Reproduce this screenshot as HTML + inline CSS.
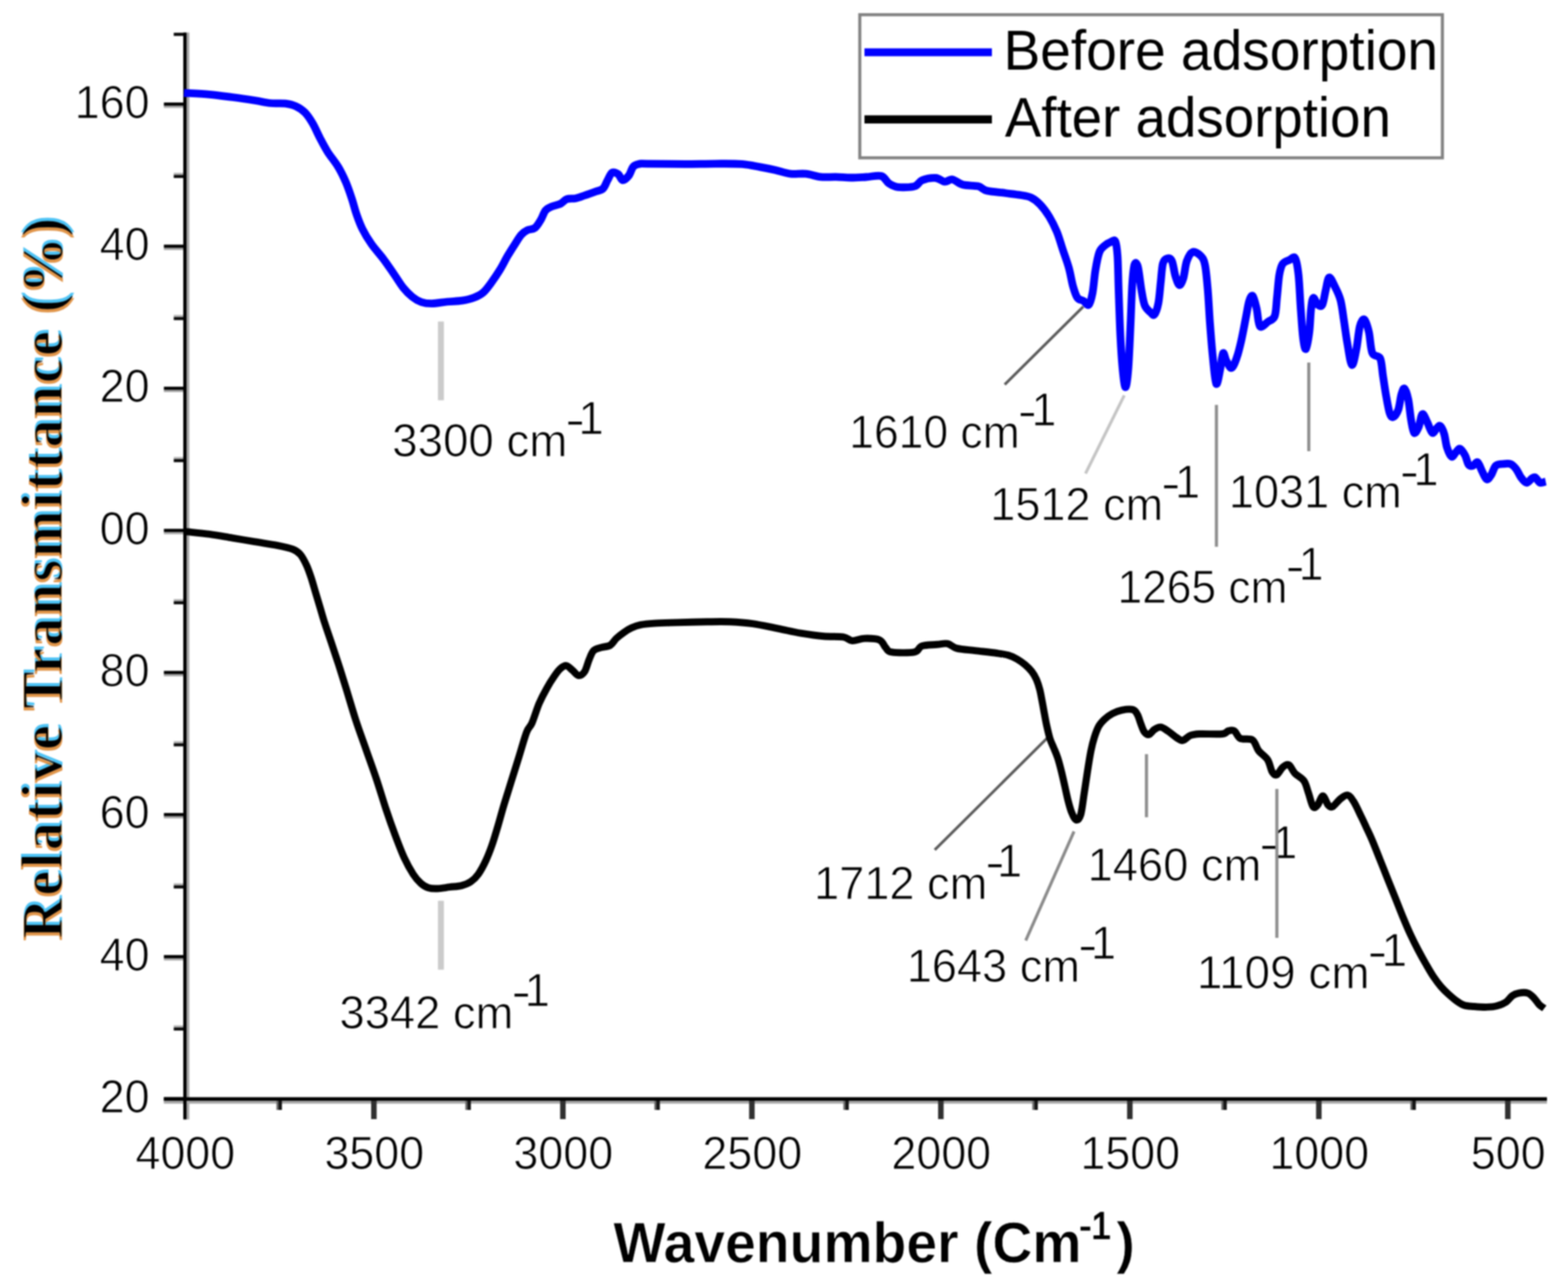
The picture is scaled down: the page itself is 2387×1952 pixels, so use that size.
<!DOCTYPE html>
<html lang="en">
<head>
<meta charset="utf-8">
<title>FTIR spectra before and after adsorption</title>
<style>
html,body{margin:0;padding:0;background:#fff;}
body{width:2387px;height:1952px;overflow:hidden;}
svg{display:block;}
text{white-space:pre;}
</style>
</head>
<body>
<svg width="2387" height="1952" viewBox="0 0 2387 1952">
<defs><filter id="soft" filterUnits="userSpaceOnUse" x="0" y="0" width="2387" height="1952" color-interpolation-filters="sRGB"><feGaussianBlur stdDeviation="1.1"/></filter><filter id="fringe" filterUnits="userSpaceOnUse" x="0" y="300" width="160" height="1160" color-interpolation-filters="sRGB"><feMorphology in="SourceAlpha" operator="erode" radius="1.3" result="core"/><feOffset in="SourceAlpha" dx="0" dy="-3.6" result="up"/><feFlood flood-color="#22b4f2" flood-opacity="0.8"/><feComposite in2="up" operator="in" result="cyan"/><feOffset in="SourceAlpha" dx="0" dy="3.6" result="down"/><feFlood flood-color="#d97a1c" flood-opacity="0.8"/><feComposite in2="down" operator="in" result="orange"/><feFlood flood-color="#000"/><feComposite in2="core" operator="in" result="ink"/><feMerge><feMergeNode in="cyan"/><feMergeNode in="orange"/><feMergeNode in="ink"/></feMerge></filter></defs>
<rect x="0" y="0" width="2387" height="1952" fill="#fff"/>
<g filter="url(#soft)">
<rect x="0" y="0" width="2387" height="1952" fill="#fff"/>
<rect x="284" y="49.5" width="4.2" height="1655" fill="#a6a6a6"/>
<rect x="249.5" y="1676" width="2105.5" height="4.4" fill="#a6a6a6"/>
<rect x="249.5" y="1675.2" width="30" height="3.6" fill="#a6a6a6"/>
<rect x="249.5" y="1670.6" width="30" height="4.8" fill="#000"/>
<rect x="249.5" y="1458.8" width="30" height="3.6" fill="#a6a6a6"/>
<rect x="249.5" y="1454.2" width="30" height="4.8" fill="#000"/>
<rect x="249.5" y="1242.5" width="30" height="3.6" fill="#a6a6a6"/>
<rect x="249.5" y="1237.9" width="30" height="4.8" fill="#000"/>
<rect x="249.5" y="1026.1" width="30" height="3.6" fill="#a6a6a6"/>
<rect x="249.5" y="1021.5" width="30" height="4.8" fill="#000"/>
<rect x="249.5" y="809.8" width="30" height="3.6" fill="#a6a6a6"/>
<rect x="249.5" y="805.2" width="30" height="4.8" fill="#000"/>
<rect x="249.5" y="593.4" width="30" height="3.6" fill="#a6a6a6"/>
<rect x="249.5" y="588.8" width="30" height="4.8" fill="#000"/>
<rect x="249.5" y="377.1" width="30" height="3.6" fill="#a6a6a6"/>
<rect x="249.5" y="372.5" width="30" height="4.8" fill="#000"/>
<rect x="249.5" y="160.7" width="30" height="3.6" fill="#a6a6a6"/>
<rect x="249.5" y="156.1" width="30" height="4.8" fill="#000"/>
<rect x="264.5" y="1561.2" width="15" height="3.2" fill="#b4b4b4"/>
<rect x="264.5" y="1564.4" width="15" height="4.7" fill="#0a0a0a"/>
<rect x="264.5" y="1344.9" width="15" height="3.2" fill="#b4b4b4"/>
<rect x="264.5" y="1348.1" width="15" height="4.7" fill="#0a0a0a"/>
<rect x="264.5" y="1128.5" width="15" height="3.2" fill="#b4b4b4"/>
<rect x="264.5" y="1131.7" width="15" height="4.7" fill="#0a0a0a"/>
<rect x="264.5" y="912.2" width="15" height="3.2" fill="#b4b4b4"/>
<rect x="264.5" y="915.4" width="15" height="4.7" fill="#0a0a0a"/>
<rect x="264.5" y="695.8" width="15" height="3.2" fill="#b4b4b4"/>
<rect x="264.5" y="699.0" width="15" height="4.7" fill="#0a0a0a"/>
<rect x="264.5" y="479.5" width="15" height="3.2" fill="#b4b4b4"/>
<rect x="264.5" y="482.7" width="15" height="4.7" fill="#0a0a0a"/>
<rect x="264.5" y="263.1" width="15" height="3.2" fill="#b4b4b4"/>
<rect x="264.5" y="266.3" width="15" height="4.7" fill="#0a0a0a"/>
<rect x="264.5" y="49.5" width="15" height="0.5" fill="#b4b4b4"/>
<rect x="264.5" y="50.0" width="15" height="4.7" fill="#0a0a0a"/>
<rect x="565.0" y="1676" width="8.4" height="28" fill="#303030"/>
<rect x="852.7" y="1676" width="8.4" height="28" fill="#303030"/>
<rect x="1140.4" y="1676" width="8.4" height="28" fill="#303030"/>
<rect x="1428.1" y="1676" width="8.4" height="28" fill="#303030"/>
<rect x="1715.8" y="1676" width="8.4" height="28" fill="#303030"/>
<rect x="2003.5" y="1676" width="8.4" height="28" fill="#303030"/>
<rect x="2291.2" y="1676" width="8.4" height="28" fill="#303030"/>
<rect x="420.8" y="1676" width="3" height="14" fill="#6a6a6a"/>
<rect x="423.8" y="1676" width="5.4" height="14" fill="#141414"/>
<rect x="708.4" y="1676" width="3" height="14" fill="#6a6a6a"/>
<rect x="711.4" y="1676" width="5.4" height="14" fill="#141414"/>
<rect x="996.1" y="1676" width="3" height="14" fill="#6a6a6a"/>
<rect x="999.1" y="1676" width="5.4" height="14" fill="#141414"/>
<rect x="1283.8" y="1676" width="3" height="14" fill="#6a6a6a"/>
<rect x="1286.8" y="1676" width="5.4" height="14" fill="#141414"/>
<rect x="1571.5" y="1676" width="3" height="14" fill="#6a6a6a"/>
<rect x="1574.5" y="1676" width="5.4" height="14" fill="#141414"/>
<rect x="1859.2" y="1676" width="3" height="14" fill="#6a6a6a"/>
<rect x="1862.2" y="1676" width="5.4" height="14" fill="#141414"/>
<rect x="2147.0" y="1676" width="3" height="14" fill="#6a6a6a"/>
<rect x="2150.0" y="1676" width="5.4" height="14" fill="#141414"/>
<rect x="279" y="49.5" width="5" height="1655" fill="#000"/>
<rect x="249.5" y="1670.6" width="2105.5" height="5.4" fill="#000"/>
<text transform="translate(227.6 1694.0) scale(0.975 1)" text-anchor="end" font-family="'Liberation Sans', Arial, Helvetica, sans-serif" font-size="70" fill="#000" stroke="#fff" stroke-width="1.1" paint-order="fill stroke">20</text>
<text transform="translate(227.6 1477.7) scale(0.975 1)" text-anchor="end" font-family="'Liberation Sans', Arial, Helvetica, sans-serif" font-size="70" fill="#000" stroke="#fff" stroke-width="1.1" paint-order="fill stroke">40</text>
<text transform="translate(227.6 1261.3) scale(0.975 1)" text-anchor="end" font-family="'Liberation Sans', Arial, Helvetica, sans-serif" font-size="70" fill="#000" stroke="#fff" stroke-width="1.1" paint-order="fill stroke">60</text>
<text transform="translate(227.6 1045.0) scale(0.975 1)" text-anchor="end" font-family="'Liberation Sans', Arial, Helvetica, sans-serif" font-size="70" fill="#000" stroke="#fff" stroke-width="1.1" paint-order="fill stroke">80</text>
<text transform="translate(227.6 828.6) scale(0.975 1)" text-anchor="end" font-family="'Liberation Sans', Arial, Helvetica, sans-serif" font-size="70" fill="#000" stroke="#fff" stroke-width="1.1" paint-order="fill stroke">00</text>
<text transform="translate(227.6 612.2) scale(0.975 1)" text-anchor="end" font-family="'Liberation Sans', Arial, Helvetica, sans-serif" font-size="70" fill="#000" stroke="#fff" stroke-width="1.1" paint-order="fill stroke">20</text>
<text transform="translate(227.6 395.9) scale(0.975 1)" text-anchor="end" font-family="'Liberation Sans', Arial, Helvetica, sans-serif" font-size="70" fill="#000" stroke="#fff" stroke-width="1.1" paint-order="fill stroke">40</text>
<text transform="translate(227.6 179.5) scale(0.975 1)" text-anchor="end" font-family="'Liberation Sans', Arial, Helvetica, sans-serif" font-size="70" fill="#000" stroke="#fff" stroke-width="1.1" paint-order="fill stroke">160</text>
<text transform="translate(282.1 1779.8) scale(0.975 1)" text-anchor="middle" font-family="'Liberation Sans', Arial, Helvetica, sans-serif" font-size="70" fill="#000" stroke="#fff" stroke-width="1.1" paint-order="fill stroke">4000</text>
<text transform="translate(569.8 1779.8) scale(0.975 1)" text-anchor="middle" font-family="'Liberation Sans', Arial, Helvetica, sans-serif" font-size="70" fill="#000" stroke="#fff" stroke-width="1.1" paint-order="fill stroke">3500</text>
<text transform="translate(857.5 1779.8) scale(0.975 1)" text-anchor="middle" font-family="'Liberation Sans', Arial, Helvetica, sans-serif" font-size="70" fill="#000" stroke="#fff" stroke-width="1.1" paint-order="fill stroke">3000</text>
<text transform="translate(1145.2 1779.8) scale(0.975 1)" text-anchor="middle" font-family="'Liberation Sans', Arial, Helvetica, sans-serif" font-size="70" fill="#000" stroke="#fff" stroke-width="1.1" paint-order="fill stroke">2500</text>
<text transform="translate(1432.9 1779.8) scale(0.975 1)" text-anchor="middle" font-family="'Liberation Sans', Arial, Helvetica, sans-serif" font-size="70" fill="#000" stroke="#fff" stroke-width="1.1" paint-order="fill stroke">2000</text>
<text transform="translate(1720.6 1779.8) scale(0.975 1)" text-anchor="middle" font-family="'Liberation Sans', Arial, Helvetica, sans-serif" font-size="70" fill="#000" stroke="#fff" stroke-width="1.1" paint-order="fill stroke">1500</text>
<text transform="translate(2008.3 1779.8) scale(0.975 1)" text-anchor="middle" font-family="'Liberation Sans', Arial, Helvetica, sans-serif" font-size="70" fill="#000" stroke="#fff" stroke-width="1.1" paint-order="fill stroke">1000</text>
<text transform="translate(2296.0 1779.8) scale(0.975 1)" text-anchor="middle" font-family="'Liberation Sans', Arial, Helvetica, sans-serif" font-size="70" fill="#000" stroke="#fff" stroke-width="1.1" paint-order="fill stroke">500</text>
<rect x="1308.9" y="22.4" width="886.9" height="217.9" fill="#fff" stroke="#828282" stroke-width="4.7"/>
<rect x="1316" y="73.6" width="194" height="12" fill="#0000ff"/>
<rect x="1316" y="175.6" width="194" height="12.4" fill="#000"/>
<text transform="translate(1527.68 106.30) scale(0.9745 1)" font-family="'Liberation Sans', Arial, Helvetica, sans-serif" font-weight="normal" font-size="86" fill="#000" >Before adsorption</text>
<text transform="translate(1529.80 207.80) scale(0.9681 1)" font-family="'Liberation Sans', Arial, Helvetica, sans-serif" font-weight="normal" font-size="86" fill="#000" >After adsorption</text>
<text transform="translate(597.02 694.80) scale(0.9939 1)" font-family="'Liberation Sans', Arial, Helvetica, sans-serif" font-size="70" fill="#000" stroke="#fff" stroke-width="1.1" paint-order="fill stroke">3300 cm<tspan x="265.21" y="-31.80" textLength="30.30" lengthAdjust="spacingAndGlyphs">-</tspan><tspan x="285.23" y="-34.30">1</tspan></text>
<text transform="translate(1292.77 682.15) scale(0.9668 1)" font-family="'Liberation Sans', Arial, Helvetica, sans-serif" font-size="70" fill="#000" stroke="#fff" stroke-width="1.1" paint-order="fill stroke">1610 cm<tspan x="265.24" y="-31.80" textLength="30.30" lengthAdjust="spacingAndGlyphs">-</tspan><tspan x="287.27" y="-34.30">1</tspan></text>
<text transform="translate(1507.50 792.00) scale(0.9799 1)" font-family="'Liberation Sans', Arial, Helvetica, sans-serif" font-size="70" fill="#000" stroke="#fff" stroke-width="1.1" paint-order="fill stroke">1512 cm<tspan x="265.22" y="-31.80" textLength="30.30" lengthAdjust="spacingAndGlyphs">-</tspan><tspan x="287.06" y="-34.30">1</tspan></text>
<text transform="translate(1701.18 917.60) scale(0.9641 1)" font-family="'Liberation Sans', Arial, Helvetica, sans-serif" font-size="70" fill="#000" stroke="#fff" stroke-width="1.1" paint-order="fill stroke">1265 cm<tspan x="265.24" y="-31.80" textLength="30.30" lengthAdjust="spacingAndGlyphs">-</tspan><tspan x="286.40" y="-34.30">1</tspan></text>
<text transform="translate(1870.80 773.40) scale(0.9799 1)" font-family="'Liberation Sans', Arial, Helvetica, sans-serif" font-size="70" fill="#000" stroke="#fff" stroke-width="1.1" paint-order="fill stroke">1031 cm<tspan x="265.22" y="-31.80" textLength="30.30" lengthAdjust="spacingAndGlyphs">-</tspan><tspan x="286.76" y="-34.30">1</tspan></text>
<text transform="translate(516.74 1565.80) scale(0.9866 1)" font-family="'Liberation Sans', Arial, Helvetica, sans-serif" font-size="70" fill="#000" stroke="#fff" stroke-width="1.1" paint-order="fill stroke">3342 cm<tspan x="265.22" y="-31.80" textLength="30.30" lengthAdjust="spacingAndGlyphs">-</tspan><tspan x="285.89" y="-34.30">1</tspan></text>
<text transform="translate(1239.29 1368.95) scale(0.9822 1)" font-family="'Liberation Sans', Arial, Helvetica, sans-serif" font-size="70" fill="#000" stroke="#fff" stroke-width="1.1" paint-order="fill stroke">1712 cm<tspan x="265.22" y="-31.80" textLength="30.30" lengthAdjust="spacingAndGlyphs">-</tspan><tspan x="283.55" y="-34.30">1</tspan></text>
<text transform="translate(1380.39 1494.70) scale(0.9822 1)" font-family="'Liberation Sans', Arial, Helvetica, sans-serif" font-size="70" fill="#000" stroke="#fff" stroke-width="1.1" paint-order="fill stroke">1643 cm<tspan x="265.22" y="-31.80" textLength="30.30" lengthAdjust="spacingAndGlyphs">-</tspan><tspan x="285.48" y="-34.30">1</tspan></text>
<text transform="translate(1655.67 1340.90) scale(0.9853 1)" font-family="'Liberation Sans', Arial, Helvetica, sans-serif" font-size="70" fill="#000" stroke="#fff" stroke-width="1.1" paint-order="fill stroke">1460 cm<tspan x="265.22" y="-31.80" textLength="30.30" lengthAdjust="spacingAndGlyphs">-</tspan><tspan x="285.01" y="-34.30">1</tspan></text>
<text transform="translate(1822.01 1505.00) scale(0.9984 1)" font-family="'Liberation Sans', Arial, Helvetica, sans-serif" font-size="70" fill="#000" stroke="#fff" stroke-width="1.1" paint-order="fill stroke">1109 cm<tspan x="260.20" y="-31.80" textLength="30.30" lengthAdjust="spacingAndGlyphs">-</tspan><tspan x="281.64" y="-34.30">1</tspan></text>
<line x1="671.2" y1="489.5" x2="671.2" y2="609.5" stroke="#cbcbcb" stroke-width="9"/>
<line x1="671.2" y1="1371.5" x2="671.2" y2="1476.5" stroke="#cbcbcb" stroke-width="9"/>
<line x1="1529.5" y1="585.5" x2="1649" y2="467" stroke="#5a5a5a" stroke-width="4.2"/>
<line x1="1652.5" y1="721" x2="1711.5" y2="602" stroke="#c4c4c4" stroke-width="4.6"/>
<line x1="1851.8" y1="616.5" x2="1851.8" y2="832.5" stroke="#8e8e8e" stroke-width="4.8"/>
<line x1="1992.4" y1="552" x2="1992.4" y2="687" stroke="#8e8e8e" stroke-width="4.8"/>
<line x1="1423" y1="1294" x2="1594.5" y2="1123.5" stroke="#5a5a5a" stroke-width="4.2"/>
<line x1="1561.5" y1="1432" x2="1635" y2="1266" stroke="#8a8a8a" stroke-width="4.6"/>
<line x1="1745.3" y1="1148.3" x2="1745.3" y2="1244.4" stroke="#8e8e8e" stroke-width="4.8"/>
<line x1="1943.8" y1="1201.2" x2="1943.8" y2="1428" stroke="#8e8e8e" stroke-width="4.8"/>
<path d="M282.3 809.4C288.4 810.1 307.2 811.8 319.1 813.4C331.0 815.0 342.2 817.2 353.7 819.1C365.2 821.0 376.7 823.0 388.2 824.9C399.7 826.8 413.2 828.7 422.8 830.6C432.4 832.5 440.1 834.1 445.9 836.4C451.7 838.7 453.9 840.5 457.4 844.5C460.8 848.5 463.9 854.9 466.6 860.6C469.3 866.4 471.2 872.1 473.5 879.0C475.8 885.9 478.1 894.4 480.4 902.1C482.7 909.8 485.0 917.4 487.3 925.1C489.6 932.8 491.5 939.8 494.2 948.2C496.9 956.7 500.0 965.4 503.5 975.8C507.0 986.2 511.1 998.4 515.0 1010.4C518.9 1022.4 522.4 1033.5 526.8 1047.8C531.2 1062.1 536.4 1080.4 541.5 1096.1C546.6 1111.8 552.2 1126.8 557.6 1142.2C563.0 1157.6 568.7 1173.2 573.7 1188.2C578.7 1203.2 583.0 1218.2 587.6 1232.0C592.2 1245.8 596.8 1258.9 601.4 1271.2C606.0 1283.5 610.6 1295.8 615.2 1305.8C619.8 1315.8 624.8 1324.6 629.0 1331.1C633.2 1337.6 636.8 1341.5 640.6 1344.9C644.5 1348.4 647.9 1350.5 652.1 1351.8C656.3 1353.1 660.5 1353.2 665.9 1353.0C671.3 1352.8 678.1 1351.5 684.3 1350.7C690.4 1349.9 697.4 1349.8 702.8 1348.4C708.2 1347.1 712.4 1345.5 716.6 1342.6C720.8 1339.7 724.3 1336.5 728.1 1331.1C731.9 1325.7 736.2 1317.7 739.6 1310.4C743.0 1303.1 745.7 1296.1 748.8 1287.3C751.9 1278.5 755.0 1267.8 758.1 1257.4C761.2 1247.0 763.8 1236.6 767.3 1225.1C770.8 1213.6 775.0 1200.5 778.8 1188.2C782.6 1175.9 786.5 1163.7 790.3 1151.4C794.1 1139.1 798.5 1122.9 801.8 1114.5C805.0 1106.1 806.6 1108.2 809.8 1101.0C812.9 1093.8 817.0 1080.0 820.7 1071.2C824.5 1062.4 828.4 1055.1 832.3 1048.2C836.1 1041.3 840.3 1034.7 843.8 1029.7C847.2 1024.7 849.9 1020.9 853.0 1018.2C856.1 1015.5 859.1 1013.2 862.2 1013.6C865.3 1014.0 868.3 1018.0 871.4 1020.5C874.5 1023.0 877.5 1028.2 880.6 1028.6C883.7 1029.0 887.2 1026.8 889.9 1022.8C892.6 1018.8 894.5 1009.8 896.8 1004.4C899.1 999.0 900.6 993.7 903.7 990.6C906.8 987.5 911.0 987.2 915.2 985.9C919.4 984.5 925.2 984.8 929.0 982.5C932.8 980.2 934.7 975.4 938.2 972.1C941.7 968.8 945.9 965.6 949.8 962.9C953.6 960.2 957.1 957.9 961.3 956.0C965.5 954.1 969.3 952.5 975.1 951.4C980.9 950.2 986.7 949.7 995.9 949.1C1005.1 948.5 1017.0 948.3 1030.4 947.9C1043.8 947.5 1063.0 947.0 1076.5 946.8C1090.0 946.6 1099.6 946.3 1111.1 946.8C1122.6 947.3 1133.3 947.9 1145.6 949.6C1157.8 951.3 1172.3 954.7 1184.6 957.1C1196.8 959.5 1207.6 962.2 1219.1 964.1C1230.6 966.0 1243.0 967.8 1253.7 968.7C1264.5 969.7 1276.3 968.6 1283.6 969.8C1290.9 970.9 1292.1 975.2 1297.5 975.6C1302.9 976.0 1309.0 972.3 1315.9 972.1C1322.8 971.9 1333.5 972.1 1338.9 974.4C1344.3 976.7 1345.1 982.8 1348.2 985.9C1351.3 989.0 1350.1 991.7 1357.4 992.9C1364.7 994.1 1384.2 994.4 1391.9 992.9C1399.6 991.4 1397.7 985.5 1403.5 983.6C1409.3 981.7 1420.0 981.9 1426.5 981.3C1433.0 980.7 1437.6 979.2 1442.6 980.2C1447.6 981.2 1449.6 985.4 1456.5 987.1C1463.4 988.8 1474.0 989.4 1484.1 990.6C1494.2 991.8 1508.9 993.4 1517.3 994.5C1525.7 995.6 1529.4 996.0 1534.6 997.5C1539.8 999.0 1544.1 1001.1 1548.4 1003.6C1552.7 1006.1 1556.8 1009.0 1560.5 1012.2C1564.2 1015.4 1567.9 1018.9 1570.8 1022.6C1573.7 1026.3 1575.8 1030.1 1577.8 1034.7C1579.8 1039.3 1581.5 1044.7 1582.9 1050.2C1584.3 1055.7 1585.2 1061.5 1586.4 1067.5C1587.6 1073.5 1588.7 1080.2 1589.9 1086.5C1591.1 1092.8 1592.2 1099.2 1593.6 1105.5C1595.0 1111.8 1596.6 1119.0 1598.3 1124.5C1600.0 1130.0 1602.0 1133.7 1604.0 1138.5C1606.0 1143.3 1608.0 1147.5 1610.0 1153.5C1612.0 1159.5 1614.0 1167.3 1615.8 1174.6C1617.6 1181.9 1619.3 1189.6 1621.0 1197.1C1622.7 1204.6 1624.4 1213.0 1626.1 1219.6C1627.8 1226.2 1629.3 1232.0 1631.3 1236.8C1633.3 1241.6 1635.9 1247.9 1638.2 1248.5C1640.5 1249.1 1643.2 1246.8 1645.2 1240.3C1647.2 1233.8 1648.6 1220.2 1650.3 1209.2C1652.0 1198.2 1653.8 1185.5 1655.5 1174.6C1657.2 1163.6 1659.0 1152.1 1660.7 1143.5C1662.4 1134.9 1663.9 1129.1 1665.9 1122.8C1667.9 1116.5 1670.2 1110.1 1672.8 1105.5C1675.4 1100.9 1678.0 1098.4 1681.4 1095.2C1684.9 1092.0 1689.2 1088.8 1693.5 1086.5C1697.8 1084.2 1702.2 1082.3 1707.4 1081.3C1712.6 1080.3 1720.6 1079.3 1724.6 1080.5C1728.6 1081.7 1729.6 1084.6 1731.6 1088.2C1733.6 1091.8 1735.0 1097.8 1736.7 1102.1C1738.4 1106.4 1739.9 1111.5 1741.9 1114.2C1743.9 1116.9 1746.2 1119.1 1748.8 1118.5C1751.4 1117.9 1754.5 1112.6 1757.5 1110.7C1760.5 1108.8 1763.5 1106.7 1767.0 1107.2C1770.5 1107.7 1774.5 1110.9 1778.5 1113.5C1782.5 1116.1 1787.3 1120.7 1791.0 1123.0C1794.7 1125.3 1796.9 1127.9 1800.4 1127.4C1803.9 1126.9 1807.9 1121.5 1812.2 1119.8C1816.5 1118.1 1817.9 1117.9 1826.0 1117.5C1834.1 1117.1 1853.3 1118.3 1860.6 1117.5C1867.9 1116.7 1866.7 1113.7 1869.8 1112.9C1872.9 1112.1 1875.9 1111.0 1879.0 1112.9C1882.1 1114.8 1883.6 1122.1 1888.2 1124.4C1892.8 1126.7 1902.1 1123.6 1906.7 1126.7C1911.3 1129.8 1912.1 1137.9 1915.9 1142.9C1919.7 1147.9 1926.2 1151.3 1929.7 1156.7C1933.2 1162.1 1934.3 1171.3 1936.6 1175.1C1938.9 1178.9 1940.8 1180.8 1943.5 1179.7C1946.2 1178.6 1949.7 1170.7 1952.8 1168.2C1955.9 1165.7 1958.9 1163.2 1962.0 1164.7C1965.1 1166.2 1967.4 1173.4 1971.2 1177.4C1975.0 1181.4 1981.5 1183.9 1985.0 1188.9C1988.5 1193.9 1989.6 1200.9 1991.9 1207.4C1994.2 1213.9 1996.5 1225.0 1998.8 1228.1C2001.1 1231.2 2003.3 1228.5 2005.8 1225.8C2008.3 1223.1 2011.1 1212.0 2013.8 1212.0C2016.5 1212.0 2019.4 1223.1 2021.9 1225.8C2024.4 1228.5 2025.7 1229.6 2028.8 1228.1C2031.9 1226.6 2036.5 1219.5 2040.3 1216.6C2044.1 1213.7 2048.3 1210.0 2051.8 1210.8C2055.3 1211.6 2057.6 1215.6 2061.1 1221.2C2064.6 1226.8 2069.4 1237.7 2072.6 1244.2C2075.8 1250.7 2077.3 1254.2 2080.0 1260.0C2082.7 1265.8 2085.4 1271.1 2088.8 1279.1C2092.2 1287.1 2096.6 1298.5 2100.5 1308.2C2104.4 1317.9 2108.2 1327.7 2112.1 1337.4C2116.0 1347.1 2119.9 1356.8 2123.8 1366.5C2127.7 1376.2 2131.5 1386.2 2135.4 1395.6C2139.3 1405.0 2143.2 1414.4 2147.1 1422.8C2151.0 1431.2 2154.8 1438.7 2158.7 1446.1C2162.6 1453.5 2166.5 1460.6 2170.4 1467.4C2174.3 1474.2 2178.1 1481.0 2182.0 1486.8C2185.9 1492.6 2189.8 1497.9 2193.7 1502.4C2197.6 1506.9 2201.4 1510.5 2205.3 1514.0C2209.2 1517.5 2213.1 1521.0 2217.0 1523.7C2220.9 1526.5 2224.1 1529.0 2228.6 1530.5C2233.1 1532.0 2238.3 1532.0 2244.1 1532.5C2249.9 1533.0 2257.7 1533.6 2263.5 1533.4C2269.3 1533.2 2274.2 1532.8 2279.1 1531.5C2284.0 1530.2 2288.8 1528.3 2292.7 1525.7C2296.6 1523.1 2299.2 1518.3 2302.4 1516.0C2305.6 1513.7 2308.2 1512.8 2312.1 1512.1C2316.0 1511.4 2321.8 1510.8 2325.7 1512.1C2329.6 1513.4 2332.5 1516.9 2335.4 1519.8C2338.3 1522.7 2340.5 1527.0 2343.1 1529.6C2345.7 1532.2 2349.6 1534.4 2350.9 1535.4" fill="none" stroke="#000" stroke-width="10.9" stroke-linejoin="round" stroke-linecap="butt"/>
<path d="M280.0 141.5C286.5 141.9 306.7 142.7 319.0 143.8C331.3 144.9 342.2 146.5 353.7 148.0C365.2 149.5 378.6 151.5 388.2 153.0C397.8 154.5 403.6 156.2 411.3 157.0C419.0 157.8 427.8 156.8 434.3 157.6C440.8 158.4 445.5 159.5 450.5 161.8C455.5 164.1 460.1 167.1 464.3 171.4C468.5 175.7 472.0 181.1 475.8 187.6C479.6 194.1 483.5 203.3 487.3 210.6C491.1 217.9 494.2 224.0 498.8 231.3C503.4 238.6 510.4 246.7 515.0 254.4C519.6 262.1 523.0 269.3 526.5 277.4C530.0 285.5 533.0 294.7 535.7 302.8C538.4 310.9 539.9 318.1 542.6 325.8C545.3 333.5 547.9 341.1 551.8 348.8C555.6 356.5 560.3 364.2 565.7 371.9C571.1 379.6 578.4 387.2 584.1 394.9C589.9 402.6 595.2 410.8 600.2 418.0C605.2 425.2 609.2 432.3 613.8 438.0C618.4 443.7 623.0 448.3 627.6 452.0C632.2 455.7 636.5 458.3 641.5 460.0C646.5 461.7 651.1 462.3 657.6 462.2C664.1 462.1 672.9 460.3 680.6 459.5C688.3 458.7 696.8 458.7 703.7 457.6C710.6 456.5 716.6 455.1 722.0 453.0C727.4 450.9 731.8 448.7 736.0 445.0C740.2 441.3 743.3 436.8 747.5 431.0C751.7 425.2 757.1 417.3 761.3 410.4C765.5 403.5 769.0 396.1 772.8 389.6C776.6 383.1 780.8 376.6 784.3 371.2C787.8 365.8 790.4 360.8 793.5 357.4C796.6 353.9 799.3 352.2 802.8 350.5C806.3 348.8 810.8 349.7 814.3 347.0C817.8 344.3 820.8 338.7 823.5 334.3C826.2 329.9 827.7 323.8 830.4 320.5C833.1 317.2 835.8 316.4 839.6 314.7C843.5 313.0 849.6 312.0 853.5 310.1C857.4 308.2 858.9 304.6 862.7 303.2C866.5 301.8 871.9 302.9 876.5 302.0C881.1 301.1 885.3 299.2 890.3 297.5C895.3 295.8 901.9 293.4 906.5 291.7C911.1 290.0 914.9 290.0 918.0 287.1C921.1 284.2 922.6 278.4 924.9 274.4C927.2 270.4 929.1 264.4 931.8 262.9C934.5 261.4 938.3 263.3 941.0 265.2C943.7 267.1 945.2 274.0 947.9 274.4C950.6 274.8 954.4 270.9 957.1 267.5C959.8 264.1 961.4 256.7 964.1 253.7C966.8 250.7 969.9 250.3 973.3 249.6C976.7 248.9 973.1 249.3 984.6 249.3C996.1 249.3 1024.9 249.8 1042.2 249.8C1059.5 249.8 1073.6 249.3 1088.2 249.3C1102.8 249.3 1118.2 249.0 1129.7 249.8C1141.2 250.7 1149.0 252.9 1157.4 254.4C1165.9 255.9 1172.7 257.3 1180.4 259.0C1188.1 260.7 1195.8 263.8 1203.5 264.7C1211.2 265.6 1218.8 263.9 1226.5 264.7C1234.2 265.5 1241.8 268.6 1249.5 269.4C1257.2 270.2 1264.9 269.2 1272.6 269.4C1280.3 269.6 1287.9 270.5 1295.6 270.5C1303.3 270.5 1311.0 269.9 1318.7 269.5C1326.4 269.1 1335.8 266.4 1341.5 268.0C1347.2 269.6 1348.8 276.2 1353.0 279.0C1357.2 281.8 1360.3 284.0 1366.8 284.8C1373.3 285.6 1386.0 285.3 1392.2 283.6C1398.4 281.9 1398.3 276.5 1403.7 274.4C1409.1 272.3 1418.7 270.6 1424.4 271.0C1430.2 271.4 1434.0 276.3 1438.2 276.7C1442.4 277.1 1445.2 272.5 1449.8 273.3C1454.4 274.1 1459.4 279.6 1465.9 281.3C1472.4 283.0 1482.8 282.1 1488.9 283.6C1495.1 285.2 1495.9 288.9 1502.8 290.6C1509.7 292.3 1522.0 292.9 1530.4 294.0C1538.9 295.1 1547.0 295.9 1553.5 297.0C1560.0 298.1 1564.6 298.5 1569.6 300.9C1574.6 303.3 1578.8 306.5 1583.4 311.3C1588.0 316.1 1593.0 322.8 1597.2 329.7C1601.4 336.6 1605.3 344.4 1608.8 352.8C1612.3 361.2 1614.9 371.2 1618.0 380.4C1621.1 389.6 1624.6 398.8 1627.2 408.1C1629.8 417.4 1631.3 428.4 1633.5 436.0C1635.7 443.6 1637.5 449.8 1640.2 453.5C1642.9 457.2 1646.5 456.4 1649.4 458.2C1652.3 459.9 1655.2 466.0 1657.5 464.0C1659.8 462.0 1661.5 454.7 1663.2 446.0C1664.9 437.3 1665.8 422.3 1667.5 412.0C1669.2 401.7 1671.1 390.4 1673.6 384.0C1676.0 377.6 1679.3 376.2 1682.2 373.6C1685.1 371.0 1688.2 369.4 1690.8 368.4C1693.4 367.4 1696.1 364.1 1697.8 367.5C1699.5 370.9 1700.3 376.9 1701.2 389.1C1702.1 401.4 1702.2 420.9 1702.9 441.0C1703.6 461.1 1704.5 489.9 1705.5 510.0C1706.5 530.1 1707.7 548.6 1709.0 561.9C1710.3 575.2 1711.9 589.6 1713.3 589.6C1714.7 589.6 1716.3 578.0 1717.6 561.9C1718.9 545.8 1720.1 514.4 1721.1 492.8C1722.1 471.2 1722.7 447.3 1723.7 432.3C1724.7 417.3 1725.7 407.2 1727.1 402.9C1728.5 398.6 1730.6 400.0 1732.3 406.4C1734.0 412.8 1735.8 431.2 1737.5 441.0C1739.2 450.8 1740.4 459.4 1742.7 465.2C1745.0 470.9 1748.8 473.2 1751.3 475.5C1753.8 477.8 1755.4 481.3 1757.4 479.0C1759.4 476.7 1761.8 469.8 1763.4 461.7C1765.0 453.6 1765.8 440.7 1766.9 430.6C1768.1 420.5 1768.6 407.4 1770.3 401.2C1772.0 395.0 1774.9 394.0 1777.2 393.4C1779.5 392.8 1782.2 393.3 1784.2 397.8C1786.2 402.3 1787.4 414.2 1789.3 420.2C1791.2 426.2 1793.4 433.4 1795.4 434.0C1797.4 434.6 1799.5 429.7 1801.4 423.7C1803.3 417.7 1804.3 404.4 1806.6 397.8C1808.9 391.2 1811.8 385.3 1815.3 383.9C1818.8 382.4 1824.2 385.9 1827.4 389.1C1830.6 392.3 1832.4 394.2 1834.3 402.9C1836.2 411.5 1837.3 426.0 1838.6 441.0C1839.9 456.0 1840.7 475.5 1842.0 492.8C1843.3 510.1 1844.8 529.3 1846.4 544.6C1848.0 559.9 1849.6 581.5 1851.5 584.4C1853.4 587.3 1855.9 569.7 1857.6 561.9C1859.3 554.1 1860.3 539.7 1861.9 537.7C1863.5 535.7 1864.9 546.0 1867.1 549.8C1869.3 553.5 1872.3 561.1 1874.9 560.2C1877.5 559.3 1880.2 551.5 1882.7 544.6C1885.2 537.7 1887.3 528.8 1889.6 518.7C1891.9 508.6 1894.5 494.3 1896.5 484.2C1898.5 474.1 1899.9 463.8 1901.7 458.2C1903.5 452.6 1905.3 448.8 1907.2 450.8C1909.1 452.8 1911.2 462.3 1913.0 470.0C1914.8 477.7 1915.2 493.6 1918.0 496.9C1920.8 500.2 1926.3 492.6 1930.1 490.0C1933.8 487.4 1938.2 487.4 1940.5 481.3C1942.8 475.2 1942.8 464.1 1943.9 453.7C1945.1 443.3 1946.0 427.8 1947.4 419.1C1948.9 410.5 1950.0 405.7 1952.6 401.8C1955.2 397.9 1959.7 397.2 1962.9 395.8C1966.1 394.4 1969.3 389.3 1971.6 393.2C1973.9 397.1 1975.4 406.1 1976.8 419.1C1978.2 432.1 1979.0 455.1 1980.2 471.0C1981.4 486.9 1982.4 504.1 1983.7 514.2C1985.0 524.3 1986.4 532.9 1988.0 531.4C1989.6 529.9 1991.9 515.6 1993.2 505.5C1994.5 495.4 1994.8 479.6 1995.8 471.0C1996.8 462.4 1997.5 454.9 1999.2 453.7C2000.9 452.5 2003.8 462.3 2006.1 464.0C2008.4 465.7 2011.0 467.7 2013.0 464.0C2015.0 460.3 2016.5 448.5 2018.2 441.6C2019.9 434.7 2021.1 423.5 2023.4 422.6C2025.7 421.7 2029.2 430.6 2032.1 436.4C2035.0 442.1 2038.4 448.5 2040.7 457.1C2043.0 465.7 2044.2 477.2 2045.9 488.2C2047.6 499.1 2049.1 511.6 2051.1 522.8C2053.1 534.0 2055.7 554.2 2058.0 555.6C2060.3 557.0 2062.9 541.2 2064.9 531.4C2066.9 521.6 2068.1 504.4 2070.1 496.9C2072.1 489.4 2074.7 485.1 2077.0 486.5C2079.3 487.9 2081.9 497.0 2083.9 505.5C2085.9 514.0 2086.2 530.8 2089.1 537.5C2091.9 544.2 2098.3 539.8 2101.0 545.5C2103.7 551.2 2103.8 562.6 2105.3 572.0C2106.8 581.4 2108.3 592.5 2110.0 602.0C2111.7 611.5 2113.7 623.5 2115.5 629.0C2117.3 634.5 2118.6 635.8 2120.8 635.0C2123.0 634.2 2126.5 629.8 2128.6 624.0C2130.7 618.2 2131.8 605.9 2133.4 600.5C2135.0 595.1 2136.4 590.5 2138.1 591.7C2139.8 593.0 2142.1 600.1 2143.8 608.0C2145.5 615.9 2146.6 630.7 2148.1 639.2C2149.6 647.7 2150.8 657.1 2152.7 659.0C2154.6 660.9 2157.5 655.0 2159.6 650.3C2161.7 645.6 2163.2 631.9 2165.4 630.6C2167.6 629.4 2170.2 638.1 2172.7 642.8C2175.2 647.5 2177.9 657.5 2180.3 659.0C2182.7 660.5 2185.2 653.8 2187.2 652.1C2189.2 650.4 2190.5 647.2 2192.4 648.6C2194.3 650.0 2196.8 655.2 2198.5 660.7C2200.2 666.2 2200.9 675.6 2202.8 681.4C2204.7 687.2 2207.4 694.1 2209.7 695.3C2212.0 696.5 2214.4 690.4 2216.6 688.4C2218.8 686.4 2220.3 682.4 2222.6 683.2C2224.9 684.1 2228.2 689.5 2230.4 693.5C2232.6 697.5 2233.6 704.8 2235.6 707.4C2237.6 710.0 2240.2 709.7 2242.5 709.1C2244.8 708.5 2247.1 702.5 2249.4 703.9C2251.7 705.3 2254.0 713.4 2256.3 717.7C2258.6 722.0 2261.0 728.9 2263.3 729.8C2265.6 730.7 2267.9 726.3 2270.2 722.9C2272.5 719.5 2274.2 711.8 2277.1 709.1C2280.0 706.4 2283.7 706.9 2287.4 706.5C2291.1 706.1 2296.0 705.2 2299.5 706.5C2303.0 707.8 2305.6 711.0 2308.2 714.3C2310.8 717.6 2312.5 722.9 2315.1 726.4C2317.7 729.9 2320.8 734.7 2323.7 735.0C2326.6 735.3 2330.1 729.4 2332.4 728.1C2334.7 726.8 2335.6 726.1 2337.6 727.2C2339.6 728.4 2341.9 734.0 2344.5 735.0C2347.1 736.0 2351.7 733.6 2353.1 733.3" fill="none" stroke="#0000ff" stroke-width="11.8" stroke-linejoin="round" stroke-linecap="butt"/>
<text transform="translate(933.80 1922.00) scale(0.9570 1)" font-family="'Liberation Sans', Arial, Helvetica, sans-serif" font-weight="bold" font-size="88" fill="#000" stroke="#fff" stroke-width="0.9" paint-order="fill stroke">Wavenumber (Cm<tspan x="741.28" y="-36.00" font-weight="normal" font-size="56.92" stroke="#000" stroke-width="1.6">-1</tspan><tspan x="800.24" y="0">)</tspan></text>
<g filter="url(#fringe)"><text transform="translate(94.00 1427.20) rotate(-90) scale(0.9700 1)" font-family="'Liberation Serif', 'Times New Roman', Times, serif" font-weight="bold" font-size="88" fill="#000"><tspan x="-2.00" letter-spacing="3.906">Relative </tspan><tspan x="359.00" letter-spacing="3.908">Transmittance </tspan><tspan x="981.26" letter-spacing="0.758">(%)</tspan></text></g>
</g>
</svg>
</body>
</html>
